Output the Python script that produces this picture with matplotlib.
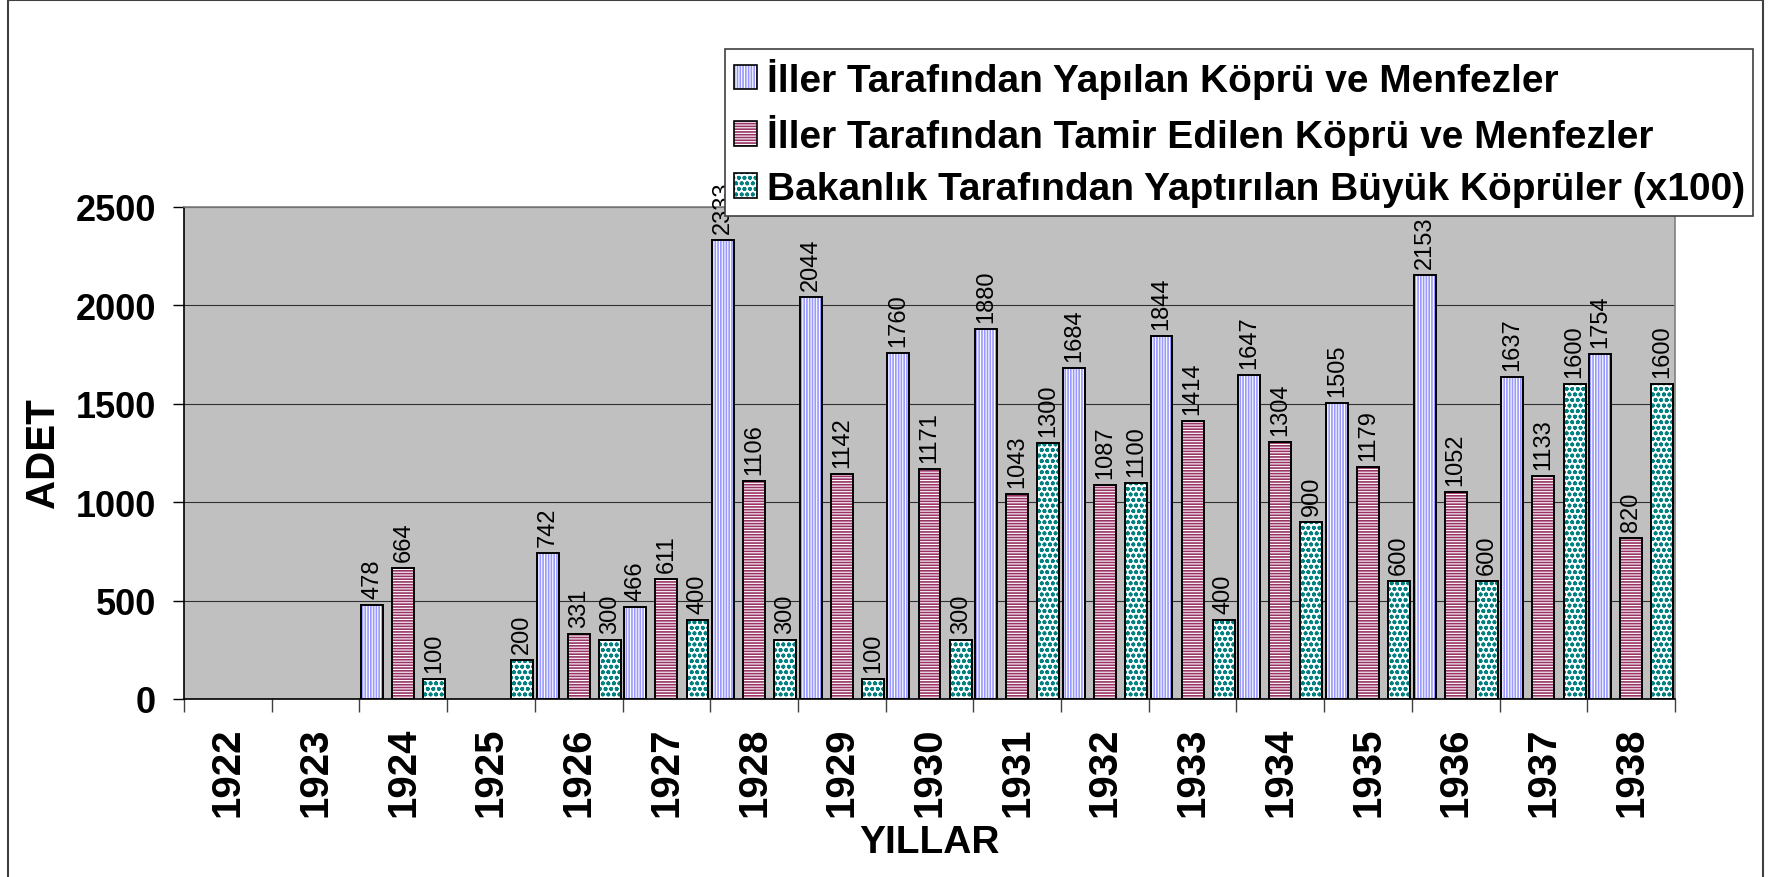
import numpy as np
import matplotlib
matplotlib.use('Agg')
import matplotlib.pyplot as plt
from matplotlib.patches import Patch, Rectangle

plt.rcParams['font.family'] = ['Liberation Sans', 'DejaVu Sans']
plt.rcParams['hatch.linewidth'] = 1.2

# Data (None = no bar that year)
years = [str(y) for y in range(1922, 1939)]
built = [None, None, 478, None, 742, 466, 2333, 2044, 1760, 1880,
         1684, 1844, 1647, 1505, 2153, 1637, 1754]
repaired = [None, None, 664, None, 331, 611, 1106, 1142, 1171, 1043,
            1087, 1414, 1304, 1179, 1052, 1133, 820]
ministry = [None, None, 100, 200, 300, 400, 300, 100, 300, 1300,
            1100, 400, 900, 600, 600, 1600, 1600]
names = ["İller Tarafından Yapılan Köprü ve Menfezler",
         "İller Tarafından Tamir Edilen Köprü ve Menfezler",
         "Bakanlık Tarafından Yaptırılan Büyük Köprüler (x100)"]

fig = plt.figure(figsize=(17.69, 8.78), dpi=100)
ax = fig.add_axes([184 / 1769, 1 - 700 / 878, (1675 - 184) / 1769, (700 - 208) / 878])
ax.set_facecolor('#c0c0c0')

styles = [('#9999ff', '||||||'), ('#993366', '------'), ('#008080', 'ooo')]
offsets = [-0.355, 0.0, 0.355]
handles = []
for vals, (hc, hatch), off in zip([built, repaired, ministry], styles, offsets):
    idx = [i for i, v in enumerate(vals) if v is not None]
    h = [vals[i] for i in idx]
    xs = np.array(idx) + off
    # hatch layer, then black outline on top
    ax.bar(xs, h, width=0.25, color='white', edgecolor=hc, hatch=hatch,
           linewidth=0, zorder=2)
    ax.bar(xs, h, width=0.25, fill=False, edgecolor='black', linewidth=1.4, zorder=3)
    for x, v in zip(xs, h):
        ax.annotate(str(v), (x, v), xytext=(0, 5), textcoords='offset points',
                    rotation=90, ha='center', va='bottom', fontsize=17)
    handles.append((Patch(facecolor='white', edgecolor=hc, hatch=hatch, linewidth=0),
                    Patch(fill=False, edgecolor='black', linewidth=1.2)))

# axes styling
ax.set_xlim(-0.5, 16.5)
ax.set_ylim(0, 2500)
ax.set_xticks(range(len(years)))
ax.set_xticklabels(years, rotation=90, fontsize=29, fontweight='bold')
ax.tick_params(axis='x', which='major', length=0, pad=20)
ax.set_xticks(np.arange(-0.5, len(years), 1), minor=True)
ax.tick_params(axis='x', which='minor', length=9, width=1, color='#404040')
ax.set_yticks(range(0, 2501, 500))
ax.tick_params(axis='y', length=8, width=1, pad=12, labelsize=26)
for lab in ax.get_yticklabels():
    lab.set_fontweight('bold')
ax.yaxis.grid(True, color='#303030', linewidth=0.8)
ax.set_axisbelow(True)
for s in ['left', 'bottom']:
    ax.spines[s].set_color('black')
    ax.spines[s].set_linewidth(1.2)
for s in ['top', 'right']:
    ax.spines[s].set_color('#808080')
    ax.spines[s].set_linewidth(1.2)

fig.text(43 / 1769, 1 - 453 / 878, 'ADET', rotation=90, ha='center', va='center',
         fontsize=29, fontweight='bold')
fig.text(930 / 1769, 1 - 843 / 878, 'YILLAR', ha='center', va='center',
         fontsize=28, fontweight='bold')

leg = fig.legend(handles, names, loc='upper left',
                 bbox_to_anchor=(725 / 1769, 1 - 50 / 878),
                 prop={'weight': 'bold', 'size': 28},
                 handlelength=0.6, handleheight=0.6, handletextpad=0.25,
                 labelspacing=0.41, borderpad=0.22, borderaxespad=0,
                 fancybox=False, framealpha=1)
leg.get_frame().set_edgecolor('#404040')
leg.get_frame().set_linewidth(1.2)

# outer chart border
fig.patches.append(Rectangle((8 / 1769, -0.05), (1763 - 8) / 1769, 1.05 - 1 / 878,
                             transform=fig.transFigure, fill=False,
                             edgecolor='#404040', linewidth=1.5))

fig.savefig('out.png', dpi=100)
